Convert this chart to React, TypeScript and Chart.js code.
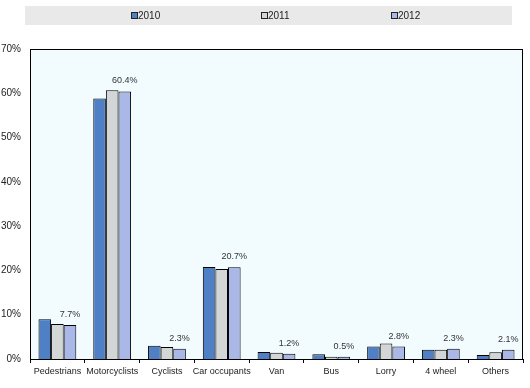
import React, { useEffect, useRef } from "react";
import { Chart, registerables } from "chart.js";

Chart.register(...registerables);

const categories = ["Pedestrians", "Motorcyclists", "Cyclists", "Car occupants", "Van", "Bus", "Lorry", "4 wheel", "Others"];
const series2010 = [9.0, 58.8, 3.0, 20.8, 1.6, 1.1, 2.8, 2.1, 0.9];
const series2011 = [7.9, 60.7, 2.7, 20.3, 1.4, 0.5, 3.5, 2.1, 1.5];
const series2012 = [7.7, 60.4, 2.3, 20.7, 1.2, 0.5, 2.8, 2.3, 2.1];
const valueLabels = ["7.7%", "60.4%", "2.3%", "20.7%", "1.2%", "0.5%", "2.8%", "2.3%", "2.1%"];
const seriesNames = ["2010", "2011", "2012"];
const yTicks = [0, 10, 20, 30, 40, 50, 60, 70];

const colors = ["#4F7FC4", "#D3D6D6", "#AAB8E8"];
const FONT = "'Liberation Sans', Arial, sans-serif";

const frame = {
  id: "frame",
  beforeDatasetsDraw(chart: any) {
    const { ctx, chartArea: a } = chart;
    ctx.save();
    ctx.fillStyle = "#F2FBFE";
    ctx.fillRect(a.left, a.top, a.right - a.left, a.bottom - a.top);
    ctx.restore();
  },
  afterDatasetsDraw(chart: any) {
    const { ctx, chartArea: a } = chart;
    ctx.save();
    ctx.strokeStyle = "#000";
    ctx.lineWidth = 1;
    ctx.strokeRect(a.left + 0.5, a.top + 0.5, a.right - a.left - 1, a.bottom - a.top);
    // value labels above 2012 bars
    const meta = chart.getDatasetMeta(2);
    ctx.fillStyle = "#333";
    ctx.font = `9px ${FONT}`;
    ctx.textAlign = "center";
    ctx.textBaseline = "bottom";
    meta.data.forEach((bar: any, i: number) => {
      ctx.fillText(valueLabels[i], bar.x, bar.y - 6);
    });
    // legend band
    ctx.fillStyle = "#E9E9E9";
    ctx.fillRect(25, 6, 487, 19);
    const starts = [131, 261, 391];
    ctx.font = `10px ${FONT}`;
    ctx.textAlign = "left";
    ctx.textBaseline = "middle";
    seriesNames.forEach((n, i) => {
      ctx.fillStyle = colors[i];
      ctx.fillRect(starts[i], 12, 7, 7);
      ctx.strokeStyle = "#222";
      ctx.strokeRect(starts[i] + 0.5, 12.5, 6, 6);
      ctx.fillStyle = "#222";
      ctx.fillText(n, starts[i] + 7, 16);
    });
    ctx.restore();
  },
};

export default function App() {
  const ref = useRef<HTMLCanvasElement>(null);
  useEffect(() => {
    document.body.style.margin = "0";
    const chart = new Chart(ref.current!, {
      type: "bar",
      data: {
        labels: categories,
        datasets: [series2010, series2011, series2012].map((d, i) => ({
          label: seriesNames[i],
          data: d,
          backgroundColor: colors[i],
          borderColor: "#000",
          borderWidth: 1,
          categoryPercentage: 0.69,
          barPercentage: 1,
        })),
      },
      options: {
        animation: false,
        responsive: false,
        maintainAspectRatio: false,
        layout: { padding: { top: 49, right: 7, left: 0, bottom: 0 } },
        plugins: { legend: { display: false }, tooltip: { enabled: false } },
        scales: {
          x: {
            grid: { display: true, drawOnChartArea: false, color: "#000", tickLength: 4, offset: true },
            border: { display: false },
            ticks: { color: "#222", font: { size: 9, family: FONT }, padding: 3, maxRotation: 0, autoSkip: false },
            afterFit: (s: any) => { s.height = 29; },
          },
          y: {
            min: 0,
            max: 70,
            afterBuildTicks: (s: any) => { s.ticks = yTicks.map((v) => ({ value: v })); },
            grid: { display: false },
            border: { display: false },
            ticks: { color: "#222", font: { size: 10, family: FONT }, padding: 1, callback: (v: any) => v + "%" },
            afterFit: (s: any) => { s.width = 30; },
          },
        },
      },
      plugins: [frame],
    });
    return () => chart.destroy();
  }, []);
  return (
    <div style={{ width: 530, height: 388, background: "#fff" }}>
      <canvas ref={ref} width={530} height={388} style={{ display: "block" }} />
    </div>
  );
}
